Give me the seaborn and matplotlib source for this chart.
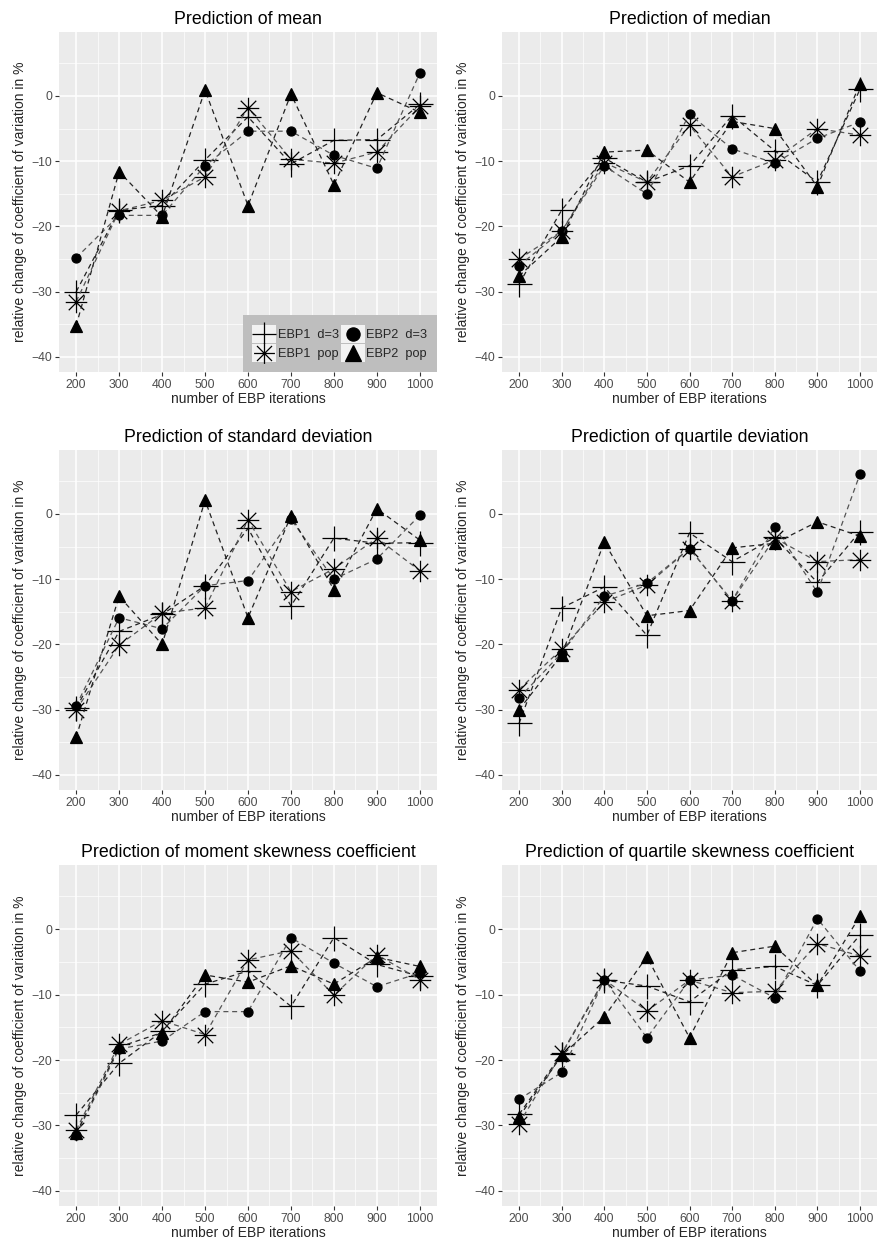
import numpy as np
import seaborn as sns
import matplotlib.pyplot as plt
from matplotlib.path import Path
from matplotlib.lines import Line2D
from matplotlib.patches import Rectangle
from matplotlib.legend_handler import HandlerBase

# -------- data --------
iterations = [200, 300, 400, 500, 600, 700, 800, 900, 1000]

mean_ebp1_d3 = [-30.0, -17.5, -16.8, -9.8, -3.2, -10.4, -6.8, -6.7, -1.3]
mean_ebp1_pop = [-31.5, -17.6, -16.0, -12.4, -1.8, -9.7, -10.3, -8.6, -1.6]
mean_ebp2_d3 = [-24.8, -18.3, -18.3, -10.7, -5.4, -5.4, -9.1, -11.1, 3.5]
mean_ebp2_pop = [-35.2, -11.6, -18.5, 0.9, -16.8, 0.3, -13.6, 0.5, -2.5]

median_ebp1_d3 = [-28.8, -17.5, -9.5, -13.2, -10.7, -3.0, -8.4, -13.2, 1.0]
median_ebp1_pop = [-25.0, -20.7, -10.2, -13.2, -4.5, -12.4, -9.8, -5.0, -6.0]
median_ebp2_d3 = [-26.0, -20.7, -10.7, -15.0, -2.8, -8.1, -10.3, -6.5, -4.0]
median_ebp2_pop = [-27.6, -21.6, -8.6, -8.3, -13.2, -3.9, -5.0, -13.9, 1.9]

sd_ebp1_d3 = [-29.7, -18.0, -15.4, -11.0, -2.2, -14.1, -3.7, -4.5, -4.4]
sd_ebp1_pop = [-30.0, -20.1, -15.2, -14.4, -0.9, -11.9, -8.4, -3.7, -8.7]
sd_ebp2_d3 = [-29.4, -15.9, -17.6, -11.0, -10.2, -0.8, -10.0, -6.9, -0.2]
sd_ebp2_pop = [-34.2, -12.6, -20.0, 2.1, -15.9, -0.3, -11.6, 0.8, -4.0]

qd_ebp1_d3 = [-32.1, -14.4, -11.2, -18.6, -2.9, -7.3, -3.6, -10.5, -2.7]
qd_ebp1_pop = [-26.9, -20.7, -13.5, -10.9, -5.3, -13.3, -3.7, -7.3, -7.0]
qd_ebp2_d3 = [-28.2, -21.3, -12.6, -10.6, -5.3, -13.3, -2.0, -12.0, 6.1]
qd_ebp2_pop = [-30.0, -21.6, -4.3, -15.6, -14.8, -5.2, -4.5, -1.2, -3.4]

msk_ebp1_d3 = [-28.4, -20.5, -15.6, -8.4, -6.4, -11.8, -1.3, -5.4, -7.2]
msk_ebp1_pop = [-30.7, -17.6, -14.0, -16.1, -4.7, -3.3, -10.1, -3.9, -7.7]
msk_ebp2_d3 = [-31.4, -18.3, -17.1, -12.6, -12.6, -1.3, -5.2, -8.8, -6.7]
msk_ebp2_pop = [-31.2, -18.0, -15.8, -7.0, -8.1, -5.6, -8.4, -4.3, -5.7]

qsk_ebp1_d3 = [-28.3, -19.1, -7.8, -8.7, -11.1, -6.2, -5.7, -8.6, -0.9]
qsk_ebp1_pop = [-29.7, -19.0, -7.7, -12.5, -7.8, -9.7, -9.5, -2.2, -4.1]
qsk_ebp2_d3 = [-26.0, -21.9, -7.7, -16.6, -7.8, -7.0, -10.5, 1.6, -6.4]
qsk_ebp2_pop = [-28.7, -19.3, -13.4, -4.2, -16.6, -3.6, -2.6, -8.6, 2.0]

titles = ["Prediction of mean", "Prediction of median",
          "Prediction of standard deviation", "Prediction of quartile deviation",
          "Prediction of moment skewness coefficient", "Prediction of quartile skewness coefficient"]
series_labels = ["EBP1  d=3", "EBP1  pop", "EBP2  d=3", "EBP2  pop"]
panels = [
    [mean_ebp1_d3, mean_ebp1_pop, mean_ebp2_d3, mean_ebp2_pop],
    [median_ebp1_d3, median_ebp1_pop, median_ebp2_d3, median_ebp2_pop],
    [sd_ebp1_d3, sd_ebp1_pop, sd_ebp2_d3, sd_ebp2_pop],
    [qd_ebp1_d3, qd_ebp1_pop, qd_ebp2_d3, qd_ebp2_pop],
    [msk_ebp1_d3, msk_ebp1_pop, msk_ebp2_d3, msk_ebp2_pop],
    [qsk_ebp1_d3, qsk_ebp1_pop, qsk_ebp2_d3, qsk_ebp2_pop],
]

# -------- styling --------
sns.set_theme(style="darkgrid")
plt.rcParams["font.family"] = ["Liberation Sans", "DejaVu Sans"]

# asterisk like R's pch 8 (plus + cross)
ast = Path([(-1, 0), (1, 0), (0, -1), (0, 1), (-.72, -.72), (.72, .72), (-.72, .72), (.72, -.72)],
           [Path.MOVETO, Path.LINETO] * 4)
markers = ["+", ast, "o", "^"]
msizes = [18, 15.5, 6.5, 8]
key_sizes = [17, 15, 9.5, 11]
line_cols = ["#222222", "#555555", "#555555", "#222222"]

W, H = 877, 1252
fig = plt.figure(figsize=(W / 100, H / 100), dpi=100)

cols = [(59, 437), (502, 877)]
rows = [(32, 372), (450, 790), (865, 1206)]


class KeyHandler(HandlerBase):
    def create_artists(self, legend, orig_handle, xdescent, ydescent, width, height, fontsize, trans):
        rect = Rectangle((-xdescent, -ydescent), width, height, facecolor="#F2F2F2",
                         edgecolor="none", transform=trans)
        mk = Line2D([width / 2 - xdescent], [height / 2 - ydescent], marker=orig_handle.get_marker(),
                    markersize=orig_handle.get_markersize(), color="black", linestyle="none",
                    markeredgewidth=0.9, transform=trans)
        return [rect, mk]


for i, (title, data) in enumerate(zip(titles, panels)):
    l, r = cols[i % 2]
    t, b = rows[i // 2]
    ax = fig.add_axes([l / W, 1 - b / H, (r - l) / W, (b - t) / H])
    ax.set_facecolor("#EBEBEB")
    for k, vals in enumerate(data):
        sns.lineplot(x=iterations, y=vals, ax=ax, color=line_cols[k], linestyle=(0, (4, 3)),
                     linewidth=0.9, marker=markers[k], markersize=msizes[k],
                     markeredgecolor="black", markerfacecolor="black", markeredgewidth=0.9,
                     label=series_labels[k], legend=False)
    ax.set_xlim(160, 1040)
    ax.set_ylim(-42.3, 9.8)
    ax.set_xticks(iterations)
    ax.set_yticks([-40, -30, -20, -10, 0])
    ax.set_xticks(np.arange(250, 1000, 100), minor=True)
    ax.set_yticks([-35, -25, -15, -5, 5], minor=True)
    ax.grid(True, which="major", color="white", linewidth=1.1)
    ax.grid(True, which="minor", color="white", linewidth=0.5)
    ax.tick_params(which="major", length=3, width=0.8, color="#333333", labelsize=8.8,
                   labelcolor="#4D4D4D", pad=2, bottom=True, left=True)
    ax.tick_params(which="minor", length=0)
    for s in ax.spines.values():
        s.set_visible(False)
    ax.set_title(title, fontsize=12.8, pad=6, color="black")
    ax.set_xlabel("number of EBP iterations", fontsize=10, labelpad=1)
    ax.set_ylabel("relative change of coefficient of variation in %", fontsize=10, labelpad=3)

    if i == 0:
        handles = [Line2D([], [], marker=markers[k], markersize=key_sizes[k], linestyle="none")
                   for k in range(4)]
        leg = ax.legend(handles, series_labels, ncol=2, loc="lower right", borderaxespad=0,
                        handler_map={Line2D: KeyHandler()}, fontsize=9.2, frameon=True,
                        fancybox=False, handlelength=1.85, handleheight=1.85, labelspacing=0.05,
                        handletextpad=0.15, columnspacing=0.15, borderpad=0.75)
        leg.get_frame().set_facecolor("#BEBEBE")
        leg.get_frame().set_edgecolor("none")
        leg.get_frame().set_alpha(1)

fig.savefig("out.png", dpi=100)
